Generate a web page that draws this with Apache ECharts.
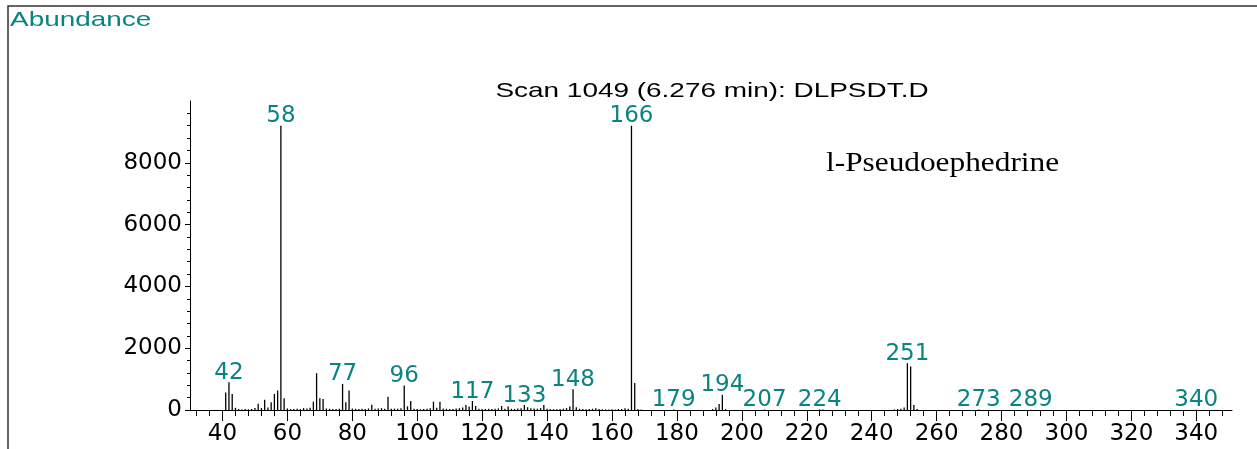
<!DOCTYPE html>
<html><head><meta charset="utf-8">
<script src="https://cdn.jsdelivr.net/npm/echarts@6/dist/echarts.min.js"></script>
<style>html,body{margin:0;padding:0;background:#fff}#c{width:1257px;height:449px}</style>
</head><body><div id="c"></div>
<script>
// m/z values and abundances
const masses = [41,42,43,44,45,46,47,48,49,50,51,52,53,54,55,56,57,58,59,60,
  61,62,63,64,65,66,67,68,69,70,71,72,73,74,75,76,77,78,79,80,
  81,82,83,84,85,86,87,88,89,90,91,92,93,94,95,96,97,98,99,100,
  101,102,103,104,105,106,107,108,109,110,111,112,113,114,115,116,117,118,119,120,
  121,122,123,124,125,126,127,128,129,130,131,132,133,134,135,136,137,138,139,140,
  141,142,143,144,145,146,147,148,149,150,151,152,153,154,155,156,157,158,159,160,
  161,162,163,164,165,166,167,168,169,179,191,192,193,194,195,207,224,225,
  247,248,249,250,251,252,253,254,273,289,340];
const abundances = [570,900,520,70,30,20,30,25,35,65,200,65,335,80,250,520,630,9200,380,50,
  30,35,40,30,60,50,70,270,1190,380,360,50,40,35,30,40,845,250,630,50,
  40,35,40,30,50,170,40,50,60,40,430,40,45,40,60,790,120,295,40,30,
  25,30,40,60,270,75,270,50,40,35,30,45,60,80,160,110,290,130,40,30,
  35,40,30,40,50,130,40,110,40,35,50,60,160,90,60,50,40,60,160,40,
  30,30,25,30,40,60,110,670,90,40,30,25,35,40,55,30,25,20,20,25,
  20,30,30,55,40,9200,870,30,15,15,30,80,195,490,30,15,20,15,
  20,30,40,80,1517,1408,160,30,20,10,10];
const labeledMasses = [42,58,77,96,117,133,148,166,179,194,207,224,251,273,289,340];
const xTickLabels = [40,60,80,100,120,140,160,180,200,220,240,260,280,300,320,340];
const yTickLabels = [0,2000,4000,6000,8000];
const titleText = 'Scan 1049 (6.276 min): DLPSDT.D';
const compoundName = 'l-Pseudoephedrine';
const yAxisName = 'Abundance';

const xMinorTicks = [];
for (let v = 32; v <= 348; v += 4) if (v % 20 !== 0) xMinorTicks.push(v);
const yMinorTicks = [];
for (let v = 400; v <= 9600; v += 400) if (v % 2000 !== 0) yMinorTicks.push(v);

const TEAL = '#0a8480';
const chart = echarts.init(document.getElementById('c'), null, {renderer: 'canvas'});
const baseX = {type: 'value', min: 30, max: 351, splitLine: {show: false}};
const baseY = {type: 'value', min: 0, max: 10000, splitLine: {show: false}};
const plain = v => String(v);
chart.setOption({
  animation: false,
  backgroundColor: '#fff',
  grid: {left: 190, right: 25, top: 101, bottom: 39},
  xAxis: [
    Object.assign({}, baseX, {
      axisLine: {lineStyle: {color: '#000', width: 1}},
      axisTick: {customValues: xTickLabels, length: 11, lineStyle: {color: '#000'}},
      axisLabel: {customValues: xTickLabels, formatter: plain, fontFamily: 'DejaVu Sans', fontSize: 23, color: '#000', margin: 13}
    }),
    Object.assign({}, baseX, {
      position: 'bottom',
      axisLine: {show: false},
      axisTick: {customValues: xMinorTicks, length: 6, lineStyle: {color: '#000'}},
      axisLabel: {show: false}
    })
  ],
  yAxis: [
    Object.assign({}, baseY, {
      axisLine: {show: true, lineStyle: {color: '#000', width: 1}},
      axisTick: {show: true, customValues: yTickLabels, length: 5, lineStyle: {color: '#000'}},
      axisLabel: {customValues: yTickLabels, formatter: plain, fontFamily: 'DejaVu Sans', fontSize: 23, color: '#000', margin: 8}
    }),
    Object.assign({}, baseY, {
      position: 'left',
      axisLine: {show: false},
      axisTick: {show: true, customValues: yMinorTicks, length: 3, lineStyle: {color: '#000'}},
      axisLabel: {show: false}
    })
  ],
  series: [{
    type: 'bar',
    xAxisIndex: 0, yAxisIndex: 0,
    barWidth: 1.3,
    itemStyle: {color: '#000'},
    label: {
      position: 'top', distance: -2, color: TEAL,
      fontFamily: 'DejaVu Sans', fontSize: 23,
      formatter: p => String(p.value[0])
    },
    data: masses.map((m, i) => ({
      value: [m, abundances[i]],
      label: {show: labeledMasses.includes(m)}
    }))
  }],
  graphic: [
    {type: 'polyline', silent: true, shape: {points: [[8, 449], [8, 6], [1257, 6]]},
     style: {stroke: '#333', lineWidth: 1.5, fill: null}},
    {type: 'text', x: 10, y: 20, scaleX: 1.33,
     style: {text: yAxisName, x: 0, y: 0, fill: TEAL, font: '21px "Liberation Sans"', textVerticalAlign: 'middle'}},
    {type: 'text', x: 712, y: 91, scaleX: 1.33,
     style: {text: titleText, x: 0, y: 0, fill: '#000', font: '21px "Liberation Sans"', textAlign: 'center', textVerticalAlign: 'middle'}},
    {type: 'text', x: 826, y: 164, scaleX: 1.16,
     style: {text: compoundName, x: 0, y: 0, fill: '#000', font: '27px "Liberation Serif"', textVerticalAlign: 'middle'}}
  ]
});
</script>
</body></html>
